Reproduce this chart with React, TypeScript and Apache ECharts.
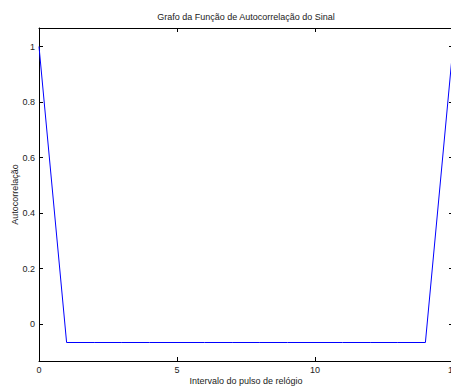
import React, { useEffect, useRef } from "react";
import * as echarts from "echarts";

const lags = [0, 1, 2, 3, 4, 5, 6, 7, 8, 9, 10, 11, 12, 13, 14, 15];
const autocorr = [1, -0.0667, -0.0667, -0.0667, -0.0667, -0.0667, -0.0667, -0.0667, -0.0667, -0.0667, -0.0667, -0.0667, -0.0667, -0.0667, -0.0667, 1];
const yTicks = [0, 0.2, 0.4, 0.6, 0.8, 1];
const xTicks = [0, 5, 10, 15];

const FONT = "Liberation Sans";

export default function App() {
  const ref = useRef<HTMLDivElement>(null);
  useEffect(() => {
    if (!ref.current) return;
    const chart = echarts.init(ref.current, null, { renderer: "svg" });
    const axisLine = { show: true, onZero: false, lineStyle: { color: "#000", width: 1 } };
    const tick = { show: true, inside: true, length: 4, lineStyle: { color: "#000", width: 1 } };
    chart.setOption({
      animation: false,
      backgroundColor: "#fff",
      title: {
        text: "Grafo da Função de Autocorrelação do Sinal",
        left: 246,
        top: 12,
        padding: 0,
        textAlign: "center",
        textStyle: { fontFamily: FONT, fontSize: 9, fontWeight: "normal", color: "#222" },
      },
      grid: { left: 39, top: 28, width: 414, height: 333, containLabel: false, outerBoundsMode: "none" },
      xAxis: [
        {
          type: "value",
          min: 0,
          max: 15,
          interval: 5,
          position: "bottom",
          name: "Intervalo do pulso de relógio",
          nameLocation: "middle",
          nameGap: 15,
          nameMoveOverlap: false,
          nameTextStyle: { fontFamily: FONT, fontSize: 9, color: "#222" },
          axisLine,
          axisTick: { ...tick, customValues: xTicks },
          axisLabel: { customValues: xTicks, fontFamily: FONT, fontSize: 9, color: "#222", margin: 4 },
          splitLine: { show: false },
        },
        {
          type: "value",
          min: 0,
          max: 15,
          interval: 5,
          position: "top",
          axisLine,
          axisTick: { ...tick, customValues: xTicks },
          axisLabel: { show: false },
          splitLine: { show: false },
        },
      ],
      yAxis: [
        {
          type: "value",
          min: -2 / 15,
          max: 16 / 15,
          position: "left",
          name: "Autocorrelação",
          nameLocation: "middle",
          nameGap: 20,
          nameMoveOverlap: false,
          nameTextStyle: { fontFamily: FONT, fontSize: 9, color: "#222" },
          axisLine,
          axisTick: { ...tick, customValues: yTicks },
          axisLabel: { customValues: yTicks, fontFamily: FONT, fontSize: 9, color: "#222", margin: 4 },
          splitLine: { show: false },
        },
        {
          type: "value",
          min: -2 / 15,
          max: 16 / 15,
          position: "right",
          axisLine,
          axisTick: { ...tick, customValues: yTicks },
          axisLabel: { show: false },
          splitLine: { show: false },
        },
      ],
      series: [
        {
          type: "line",
          xAxisIndex: 0,
          yAxisIndex: 0,
          data: lags.map((x, i) => [x, autocorr[i]]),
          showSymbol: false,
          symbol: "none",
          lineStyle: { color: "#0000ff", width: 1 },
        },
      ],
    });
    return () => chart.dispose();
  }, []);
  return (
    <div style={{ position: "fixed", left: 0, top: 0, width: 451, height: 387, overflow: "hidden" }}>
      <div ref={ref} style={{ width: 451, height: 387 }} />
    </div>
  );
}
